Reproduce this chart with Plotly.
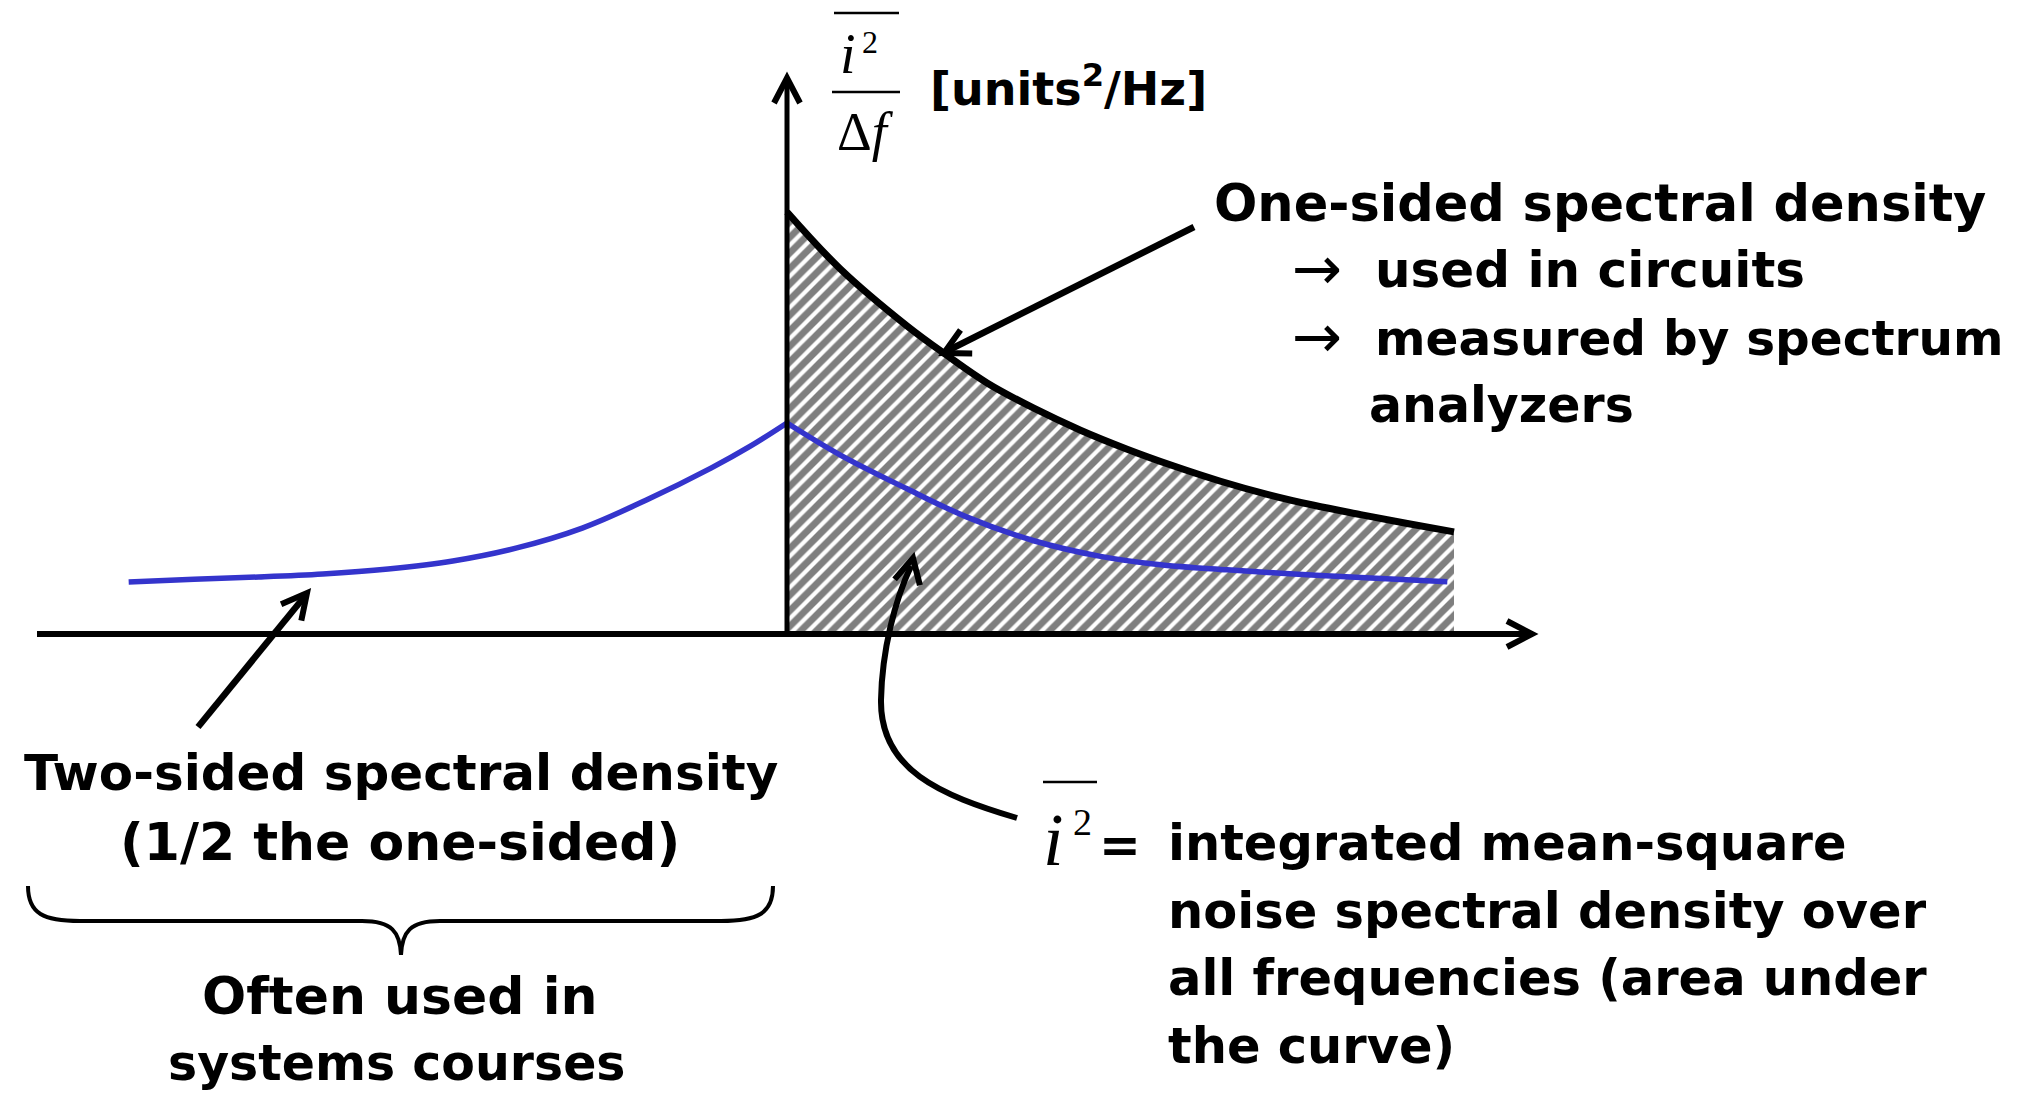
import math
import plotly.graph_objects as go

# ---------------- data ----------------
# normalized frequency f (0 = DC, 1 = right end of the drawn spectrum)
one_sided_freq = [0.0, 0.08, 0.18, 0.24, 0.30, 0.37, 0.44, 0.51, 0.58, 0.65, 0.72, 0.79, 0.86, 0.93, 1.0]
one_sided_psd = [1.0, 0.865, 0.73, 0.66, 0.595, 0.535, 0.483, 0.438, 0.398, 0.362, 0.331, 0.305, 0.283, 0.262, 0.242]

two_sided_freq_neg = [-0.987, -0.889, -0.792, -0.696, -0.598, -0.501, -0.405, -0.307, -0.210, -0.114, -0.055, 0.0]
two_sided_psd_neg = [0.123, 0.130, 0.135, 0.142, 0.154, 0.173, 0.204, 0.251, 0.318, 0.393, 0.445, 0.5]

two_sided_freq_pos = [0.0, 0.08, 0.18, 0.27, 0.37, 0.47, 0.56, 0.66, 0.76, 0.86, 0.99]
two_sided_psd_pos = [0.5, 0.424, 0.344, 0.277, 0.221, 0.184, 0.164, 0.152, 0.142, 0.134, 0.124]

one_sided_lines = ["One-sided spectral density", "used in circuits", "measured by spectrum", "analyzers"]
two_sided_lines = ["Two-sided spectral density", "(1/2 the one-sided)"]
systems_lines = ["Often used in", "systems courses"]
integral_lines = ["integrated mean-square", "noise spectral density over",
                  "all frequencies (area under", "the curve)"]
units_label = "[units<sup>2</sup>/Hz]"

# ---------------- layout geometry (screen pixels) ----------------
W, H = 2028, 1095
OFF = 8                # page body margin around the plot div
X0, KX = 787, 667      # screen pixel of f = 0, pixels per unit f
Y0, KY = 634, 422      # screen pixel of S = 0, pixels per unit S

TXT = "DejaVu Sans"
SERIF = "Liberation Serif"
FS = 50
BLUE = "#3434CC"

fig = go.Figure()

fig.add_trace(go.Scatter(
    x=one_sided_freq, y=one_sided_psd, mode="lines",
    line=dict(color="black", width=7, shape="spline"),
    fill="tozeroy",
    fillpattern=dict(shape="/", fgcolor="black", bgcolor="white", size=11, solidity=0.62),
    showlegend=False, hoverinfo="skip"))
fig.add_trace(go.Scatter(
    x=two_sided_freq_neg, y=two_sided_psd_neg, mode="lines",
    line=dict(color=BLUE, width=5.5, shape="spline"), showlegend=False, hoverinfo="skip"))
fig.add_trace(go.Scatter(
    x=two_sided_freq_pos, y=two_sided_psd_pos, mode="lines",
    line=dict(color=BLUE, width=5.5, shape="spline"), showlegend=False, hoverinfo="skip"))
# pixel-space helper axes
fig.add_trace(go.Scatter(x=[None], y=[None], xaxis="x2", yaxis="y2", showlegend=False, hoverinfo="skip"))

shapes = []


def line(x0, y0, x1, y1, w=6):
    shapes.append(dict(type="line", xref="x2", yref="y2", x0=x0, y0=y0, x1=x1, y1=y1,
                       line=dict(color="black", width=w)))


def path(d, w=6):
    shapes.append(dict(type="path", xref="x2", yref="y2", path=d,
                       line=dict(color="black", width=w), fillcolor="rgba(0,0,0,0)"))


def chevron(tx, ty, fx, fy, L=25, hw=13, w=6):
    dx, dy = tx - fx, ty - fy
    n = math.hypot(dx, dy)
    dx, dy = dx / n, dy / n
    bx, by = tx - L * dx, ty - L * dy
    px, py = -dy, dx
    path(f"M {bx + hw * px:.1f} {by + hw * py:.1f} L {tx:.1f} {ty:.1f} L {bx - hw * px:.1f} {by - hw * py:.1f}", w)


# axes
line(37, Y0, 1528, Y0, 6)
chevron(1532, Y0, 1500, Y0)
line(X0, Y0, X0, 82, 5)
chevron(X0, 78, X0, 120)

# straight arrows
line(1194, 227, 947, 351, 6.5)
chevron(944, 353, 1194, 227)
line(198, 727, 305, 596, 6.5)
chevron(307, 593, 198, 727)

# curved arrow
path("M 1017 818 C 940 795, 880 770, 881 700 C 882 650, 895 600, 911 566", 6)
chevron(913, 558, 905, 592)

# brace
path("M 28 886 C 28 914, 44 921, 80 921 L 362 921 C 392 921, 400 932, 401 955 "
     "C 402 932, 410 921, 440 921 L 721 921 C 757 921, 773 914, 773 886", 4)

# fraction / overbars
line(834, 13, 899, 13, 2.5)
line(832, 92, 900, 92, 2.5)
line(1043, 782, 1097, 782, 2.5)

annotations = []


def text(x, y, s, size=FS, anchor="left", family=TXT, bold=True):
    annotations.append(dict(x=x, y=y, xref="x2", yref="y2", text=(f"<b>{s}</b>" if bold else s),
                            showarrow=False, xanchor=anchor, yanchor="middle",
                            font=dict(family=family, size=size, color="black")))


# y-axis label
text(848, 54, "<i>i</i>", 56, "center", SERIF, False)
text(870, 42, "2", 32, "center", SERIF, False)
text(865, 132, "Δ<i>f</i>", 54, "center", SERIF, False)
text(928, 86, units_label, 46)

# one-sided description
text(1212, 203, one_sided_lines[0], 51)
text(1290, 268, "→", 60, "left", TXT, False)
text(1373, 270, one_sided_lines[1])
text(1290, 336, "→", 60, "left", TXT, False)
text(1373, 338, one_sided_lines[2], 48.5)
text(1367, 405, one_sided_lines[3], 49)

# two-sided description
text(401, 773, two_sided_lines[0], anchor="center")
text(400, 842, two_sided_lines[1], 52, anchor="center")
text(399, 996, systems_lines[0], 52, anchor="center")
text(397, 1063, systems_lines[1], 49, anchor="center")

# integrated mean-square
text(1053, 840, "<i>i</i>", 74, "center", SERIF, False)
text(1082, 822, "2", 38, "center", SERIF, False)
text(1120, 845, "=", FS, "center")
for i, s in enumerate(integral_lines):
    text(1166, 843 + i * 67.5, s, 49.5)

fig.update_layout(
    width=W, height=H, autosize=False,
    margin=dict(l=0, r=0, t=0, b=0),
    paper_bgcolor="white", plot_bgcolor="white",
    showlegend=False,
    xaxis=dict(range=[-(X0 - OFF) / KX, (W - (X0 - OFF)) / KX], domain=[0, 1], visible=False, fixedrange=True),
    yaxis=dict(range=[((Y0 - OFF) - H) / KY, (Y0 - OFF) / KY], domain=[0, 1], visible=False, fixedrange=True),
    xaxis2=dict(range=[OFF, W + OFF], overlaying="x", anchor="y2", visible=False, fixedrange=True),
    yaxis2=dict(range=[H + OFF, OFF], overlaying="y", anchor="x2", visible=False, fixedrange=True),
    shapes=shapes, annotations=annotations,
)

fig.write_html("out.html")
